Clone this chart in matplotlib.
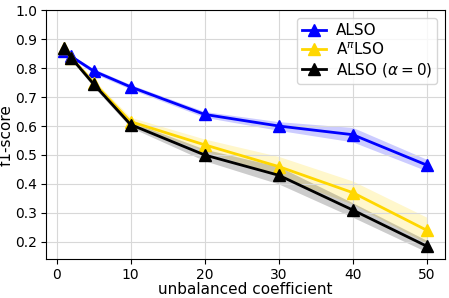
import numpy as np
import matplotlib.pyplot as plt

x = [1, 2, 5, 10, 20, 30, 40, 50]
also = [0.86, 0.84, 0.79, 0.735, 0.64, 0.60, 0.57, 0.465]
also_std = [0.005, 0.005, 0.008, 0.008, 0.01, 0.015, 0.025, 0.02]
api_lso = [0.87, 0.835, 0.75, 0.615, 0.535, 0.46, 0.37, 0.24]
api_std = [0.005, 0.008, 0.01, 0.015, 0.02, 0.035, 0.04, 0.045]
also_a0 = [0.87, 0.835, 0.745, 0.605, 0.50, 0.43, 0.31, 0.185]
a0_std = [0.005, 0.008, 0.01, 0.01, 0.02, 0.03, 0.025, 0.02]

fig = plt.figure(figsize=(4.49, 2.98), dpi=100)
ax = fig.add_axes([0.102, 0.13, 0.889, 0.836])

series = [
    (also, also_std, 'blue', 'ALSO'),
    (api_lso, api_std, 'gold', r'A$^\pi$LSO'),
    (also_a0, a0_std, 'black', r'ALSO ($\alpha=0$)'),
]
for y, s, c, lab in series:
    y = np.array(y)
    s = np.array(s)
    ax.plot(x, y, color=c, marker='^', markersize=9, linewidth=2, label=lab)
    ax.fill_between(x, y - s, y + s, color=c, alpha=0.2, linewidth=0)

ax.set_ylim(0.14, 1.0)
ax.set_yticks([0.2, 0.3, 0.4, 0.5, 0.6, 0.7, 0.8, 0.9, 1.0])
ax.set_xticks([0, 10, 20, 30, 40, 50])
ax.tick_params(labelsize=10, pad=2.5)
ax.grid(True, color='#d8d8d8')
ax.set_xlabel('unbalanced coefficient', fontsize=11, labelpad=0)
ax.set_ylabel('f1-score', fontsize=11, labelpad=1)
ax.legend(fontsize=11, loc='upper right', labelspacing=0.2, handlelength=1.6,
          handletextpad=0.6, borderpad=0.35)

plt.savefig('out.png')
